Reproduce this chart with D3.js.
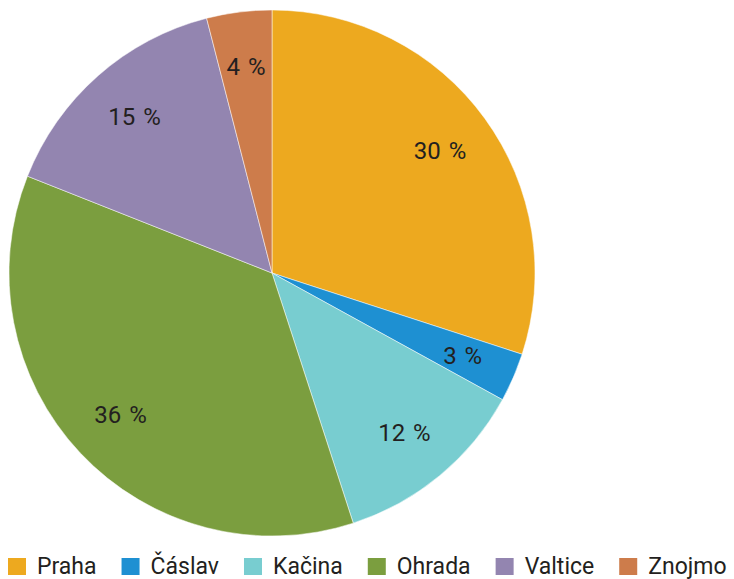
<!DOCTYPE html>
<html>
<head>
<meta charset="utf-8">
<script src="https://cdn.jsdelivr.net/npm/d3@7"></script>
<style>
  body { margin: 0; background: #fff; }
  text { font-family: Roboto, sans-serif; fill: #231f20; }
</style>
</head>
<body>
<svg id="chart"></svg>
<script>
// data
const categories = ["Praha", "Čáslav", "Kačina", "Ohrada", "Valtice", "Znojmo"];
const values = [30, 3, 12, 36, 15, 4];
const colors = ["#eda91f", "#1e90d2", "#78cdd0", "#7b9e3f", "#9385b0", "#cd7c4b"];

const width = 734, height = 579;
const cx = 272, cy = 273, radius = 263;

const svg = d3.select("#chart")
    .attr("width", width)
    .attr("height", height);

const pie = d3.pie().sort(null).value(d => d)(values);
const arc = d3.arc().innerRadius(0).outerRadius(radius);
const labelArc = d3.arc().innerRadius(radius * 0.79).outerRadius(radius * 0.79);

const g = svg.append("g").attr("transform", `translate(${cx},${cy})`);

g.selectAll("path")
    .data(pie)
    .enter()
    .append("path")
    .attr("d", arc)
    .attr("fill", (d, i) => colors[i])
    .attr("stroke", "#fff")
    .attr("stroke-width", 0.5);

g.selectAll("text.lbl")
    .data(pie)
    .enter()
    .append("text")
    .attr("class", "lbl")
    .attr("transform", d => `translate(${labelArc.centroid(d)})`)
    .attr("text-anchor", "middle")
    .attr("dominant-baseline", "central")
    .style("font-size", "24px")
    .style("word-spacing", "2px")
    .text(d => d.value + " %");

// legend
const legend = svg.append("g").attr("transform", "translate(8,574)");
let x = 0;
categories.forEach((c, i) => {
    const item = legend.append("g").attr("transform", `translate(${x},0)`);
    item.append("rect")
        .attr("x", 0).attr("y", -16)
        .attr("width", 18).attr("height", 17)
        .attr("fill", colors[i]);
    const t = item.append("text")
        .attr("x", 29)
        .style("font-size", "23px")
        .text(c);
    x += 29 + t.node().getComputedTextLength() + 25;
});
</script>
</body>
</html>
